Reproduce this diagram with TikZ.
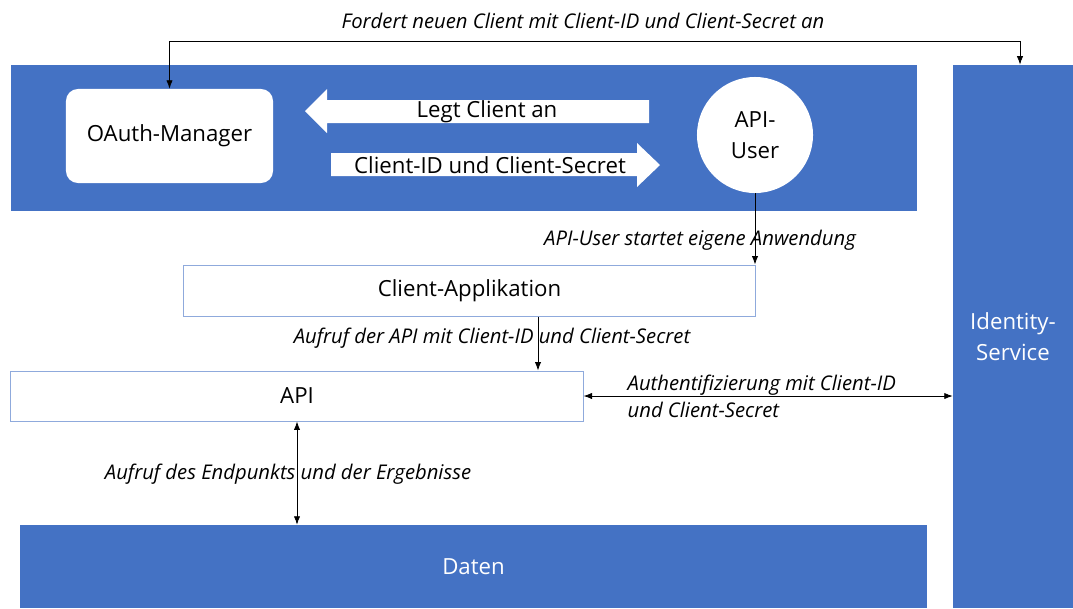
\documentclass[tikz,border=0pt]{standalone}
\usepackage{fontspec}
\setmainfont{Open Sans}
\usetikzlibrary{arrows.meta}
\definecolor{boxblue}{HTML}{4472C4}
\definecolor{lineblue}{HTML}{8FAADC}
\tikzset{
  area/.style={fill=boxblue,draw=none,inner sep=0pt,text=white,font=\fontsize{15.8}{22}\selectfont},
  panel/.style={fill=white,draw=lineblue,line width=0.7pt,inner sep=0pt,font=\fontsize{15.8}{22}\selectfont},
  lbl/.style={font=\itshape\fontsize{14.4}{19}\selectfont,inner sep=1pt},
  btxt/.style={font=\fontsize{15.8}{22}\selectfont,inner sep=0pt},
  conn/.style={-{Latex[length=6pt,width=4.5pt]},line width=0.6pt},
  both/.style={{Latex[length=6pt,width=4.5pt]}-{Latex[length=6pt,width=4.5pt]},line width=0.6pt},
}
\begin{document}
\begin{tikzpicture}[x=0.025cm,y=-0.025cm]
\useasboundingbox (0,0) rectangle (1073,608);
% blue areas
\node[area,minimum width=22.65cm,minimum height=3.65cm] (userarea) at (464,138) {};
\node[area,minimum width=3cm,minimum height=13.575cm,align=center] (ident) at (1013,336.5) {Identity-\\Service};
\node[area,minimum width=22.675cm,minimum height=2.075cm] (daten) at (473.5,566.5) {Daten};
% inside the user area
\node[fill=white,rounded corners=0.3cm,minimum width=5.175cm,minimum height=2.35cm,btxt] (oauth) at (169.5,136) {OAuth-Manager};
\node[circle,fill=white,minimum size=2.9cm,btxt,align=center] (user) at (755,135) {API-\\User};
\fill[white] (649,100) -- (327,100) -- (327,89) -- (305,111) -- (327,133) -- (327,123) -- (649,123) -- cycle;
\node[btxt] (anlegen) at (487,112) {Legt Client an};
\fill[white] (331,153) -- (637,153) -- (637,143) -- (660,165) -- (637,187) -- (637,176) -- (331,176) -- cycle;
\node[btxt] (zugang) at (490,165) {Client-ID und Client-Secret};
% white boxes
\node[panel,minimum width=14.275cm,minimum height=1.275cm] (client) at (469.5,290.5) {Client-Applikation};
\node[panel,minimum width=14.3cm,minimum height=1.25cm] (api) at (297,396) {API};
% connectors
\coordinate (top) at (0,41);
\coordinate (callx) at (538,0);
\draw[both] (oauth.north) -- (oauth.north |- top) -| ([xshift=0.175cm]ident.north);
\draw[conn] (user.south) -- (user.south |- client.north);
\draw[conn] (client.south -| callx) -- (api.north -| callx);
\draw[both] (api.east) -- (api.east -| ident.west);
\draw[both] (api.south) -- (api.south |- daten.north);
% labels
\node[lbl] (fordert) at (583,21) {Fordert neuen Client mit Client-ID und Client-Secret an};
\node[lbl] (startet) at (700,240) {API-User startet eigene Anwendung};
\node[lbl] (aufruf) at (492,338) {Aufruf der API mit Client-ID und Client-Secret};
\node[lbl,anchor=west,align=left] (auth) at (626,396) {Authentifizierung mit Client-ID\\und Client-Secret};
\node[lbl] (endpunkt) at (288,474) {Aufruf des Endpunkts und der Ergebnisse};
\end{tikzpicture}
\end{document}
